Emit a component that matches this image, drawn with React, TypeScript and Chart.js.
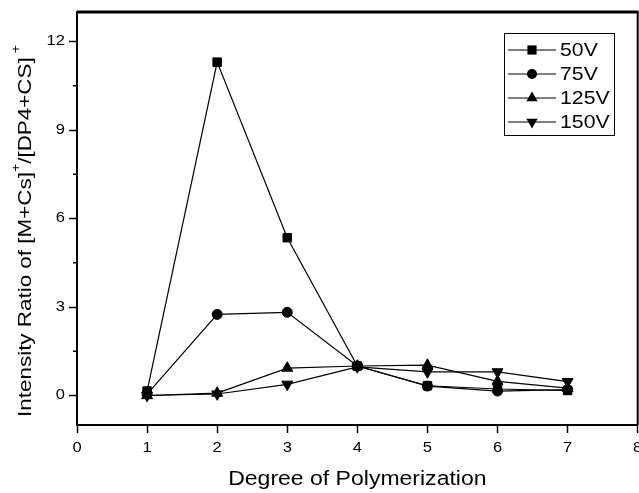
import React, { useEffect, useRef } from "react";
import { Chart, registerables } from "chart.js";

Chart.register(...registerables);

const degrees = [1, 2, 3, 4, 5, 6, 7];
const v50 = [0.15, 11.3, 5.35, 1.0, 0.33, 0.22, 0.17];
const v75 = [0.05, 2.75, 2.82, 1.0, 0.32, 0.15, 0.2];
const v125 = [0.0, 0.08, 0.93, 1.0, 1.03, 0.48, 0.25];
const v150 = [0.0, 0.05, 0.38, 0.97, 0.8, 0.8, 0.47];
const seriesLabels = ["50V", "75V", "125V", "150V"];
const xTicks = [0, 1, 2, 3, 4, 5, 6, 7, 8];
const yMajorTicks = [0, 3, 6, 9, 12];
const yMinorTicks = [1.5, 4.5, 7.5, 10.5];
const xTitle = "Degree of Polymerization";

const FONT = "'Liberation Sans', Arial, Helvetica, sans-serif";
const SX = 1.18;

function stretchText(ctx: CanvasRenderingContext2D, text: string, x: number, y: number, align: CanvasTextAlign, size: number) {
  ctx.save();
  ctx.font = `${size}px ${FONT}`;
  ctx.textAlign = align;
  ctx.textBaseline = "middle";
  ctx.fillStyle = "#000";
  ctx.translate(x, y);
  ctx.scale(SX, 1);
  ctx.fillText(text, 0, 0);
  ctx.restore();
}

function marker(ctx: CanvasRenderingContext2D, style: string, x: number, y: number, r: number, rot: number) {
  ctx.save();
  ctx.fillStyle = "#000";
  ctx.beginPath();
  if (style === "rect") {
    const s = Math.SQRT1_2 * r;
    ctx.rect(x - s, y - s, 2 * s, 2 * s);
  } else if (style === "circle") {
    ctx.arc(x, y, r, 0, Math.PI * 2);
  } else {
    let rad = (rot * Math.PI) / 180;
    for (let i = 0; i < 3; i++) {
      const px = x + Math.sin(rad) * r;
      const py = y - Math.cos(rad) * r;
      if (i === 0) ctx.moveTo(px, py);
      else ctx.lineTo(px, py);
      rad += (2 * Math.PI) / 3;
    }
    ctx.closePath();
  }
  ctx.fill();
  ctx.restore();
}

const textPlugin = {
  id: "textPlugin",
  afterDraw(chart: any) {
    const ctx: CanvasRenderingContext2D = chart.ctx;
    const xs = chart.scales.x;
    const ys = chart.scales.y;
    const area = chart.chartArea;

    // frame top and right
    ctx.save();
    ctx.strokeStyle = "#000";
    ctx.lineWidth = 3;
    ctx.beginPath();
    ctx.moveTo(area.left, area.top);
    ctx.lineTo(area.right + 1, area.top);
    ctx.stroke();
    ctx.lineWidth = 2;
    ctx.beginPath();
    ctx.moveTo(area.right, area.top);
    ctx.lineTo(area.right, area.bottom);
    ctx.stroke();
    // minor y ticks
    ctx.lineWidth = 1.5;
    for (const v of yMinorTicks) {
      const py = ys.getPixelForValue(v);
      ctx.beginPath();
      ctx.moveTo(area.left - 4, py);
      ctx.lineTo(area.left, py);
      ctx.stroke();
    }
    ctx.restore();

    // tick labels
    for (const v of xTicks) {
      stretchText(ctx, String(v), xs.getPixelForValue(v), 448, "center", 14);
    }
    for (const v of yMajorTicks) {
      stretchText(ctx, String(v), 65, ys.getPixelForValue(v), "right", 14);
    }

    // x title
    stretchText(ctx, xTitle, (area.left + area.right) / 2, 480, "center", 19.5);

    // y title with superscripts
    const segs: [string, boolean][] = [
      ["Intensity Ratio of [M+Cs]", false],
      ["+", true],
      ["/[DP4+CS]", false],
      [" +", true],
    ];
    ctx.save();
    ctx.fillStyle = "#000";
    ctx.textBaseline = "alphabetic";
    ctx.textAlign = "left";
    ctx.translate(31, 231);
    ctx.rotate(-Math.PI / 2);
    ctx.scale(SX, 1);
    let total = 0;
    const widths: number[] = [];
    for (const [t, sup] of segs) {
      ctx.font = `${sup ? 12 : 19}px ${FONT}`;
      const w = ctx.measureText(t).width;
      widths.push(w);
      total += w;
    }
    let cx = -total / 2;
    segs.forEach(([t, sup], i) => {
      ctx.font = `${sup ? 12 : 19}px ${FONT}`;
      ctx.fillText(t, cx, sup ? -11 : 0);
      cx += widths[i];
    });
    ctx.restore();

    // legend
    ctx.save();
    ctx.strokeStyle = "#000";
    ctx.lineWidth = 1;
    ctx.strokeRect(504.5, 33.5, 110, 102);
    const styles = ["rect", "circle", "triangle", "triangle"];
    const rots = [0, 0, 0, 180];
    const radii = [6.5, 5, 6.5, 6.5];
    seriesLabels.forEach((lab, i) => {
      const y = 50 + i * 24;
      ctx.lineWidth = 1.2;
      ctx.beginPath();
      ctx.moveTo(508, y);
      ctx.lineTo(556, y);
      ctx.stroke();
      marker(ctx, styles[i], 532, y, radii[i], rots[i]);
      stretchText(ctx, lab, 560, y + 1, "left", 18);
    });
    ctx.restore();
  },
};

export default function App() {
  const ref = useRef<HTMLCanvasElement | null>(null);
  useEffect(() => {
    if (!ref.current) return;
    const mk = (label: string, data: number[], style: string, r: number, rot = 0) => ({
      label,
      data: degrees.map((d, i) => ({ x: d, y: data[i] })),
      borderColor: "#000",
      backgroundColor: "#000",
      borderWidth: 1.2,
      pointStyle: style,
      pointRadius: r,
      pointRotation: rot,
      pointBorderWidth: 1,
      pointBackgroundColor: "#000",
      pointBorderColor: "#000",
      tension: 0,
      fill: false,
    });
    const chart = new Chart(ref.current, {
      type: "line",
      data: {
        datasets: [
          mk(seriesLabels[0], v50, "rect", 6),
          mk(seriesLabels[1], v75, "circle", 5),
          mk(seriesLabels[2], v125, "triangle", 6.3),
          mk(seriesLabels[3], v150, "triangle", 6.3, 180),
        ] as any,
      },
      options: {
        responsive: false,
        animation: false,
        layout: { padding: { top: 12, right: 0, left: 0, bottom: 0 } },
        plugins: { legend: { display: false }, tooltip: { enabled: false } },
        scales: {
          x: {
            type: "linear",
            min: 0,
            max: 8,
            afterBuildTicks: (s: any) => {
              s.ticks = xTicks.map((v) => ({ value: v }));
            },
            afterFit: (s: any) => {
              s.height = 68;
            },
            ticks: { display: false },
            grid: { display: true, drawOnChartArea: false, drawTicks: true, tickLength: 8, tickWidth: 1.5, tickColor: "#000", color: "#000" },
            border: { display: true, color: "#000", width: 2 },
          },
          y: {
            type: "linear",
            min: -1,
            max: 13,
            afterBuildTicks: (s: any) => {
              s.ticks = yMajorTicks.map((v) => ({ value: v }));
            },
            afterFit: (s: any) => {
              s.width = 77;
            },
            ticks: { display: false },
            grid: { display: true, drawOnChartArea: false, drawTicks: true, tickLength: 8, tickWidth: 1.5, tickColor: "#000", color: "#000" },
            border: { display: true, color: "#000", width: 2 },
          },
        },
      },
      plugins: [textPlugin],
    });
    return () => chart.destroy();
  }, []);
  return (
    <div style={{ position: "absolute", left: 0, top: 0, width: 639, height: 493, overflow: "hidden", background: "#fff" }}>
      <canvas ref={ref} width={645} height={493} style={{ width: 645, height: 493, display: "block" }} />
    </div>
  );
}
